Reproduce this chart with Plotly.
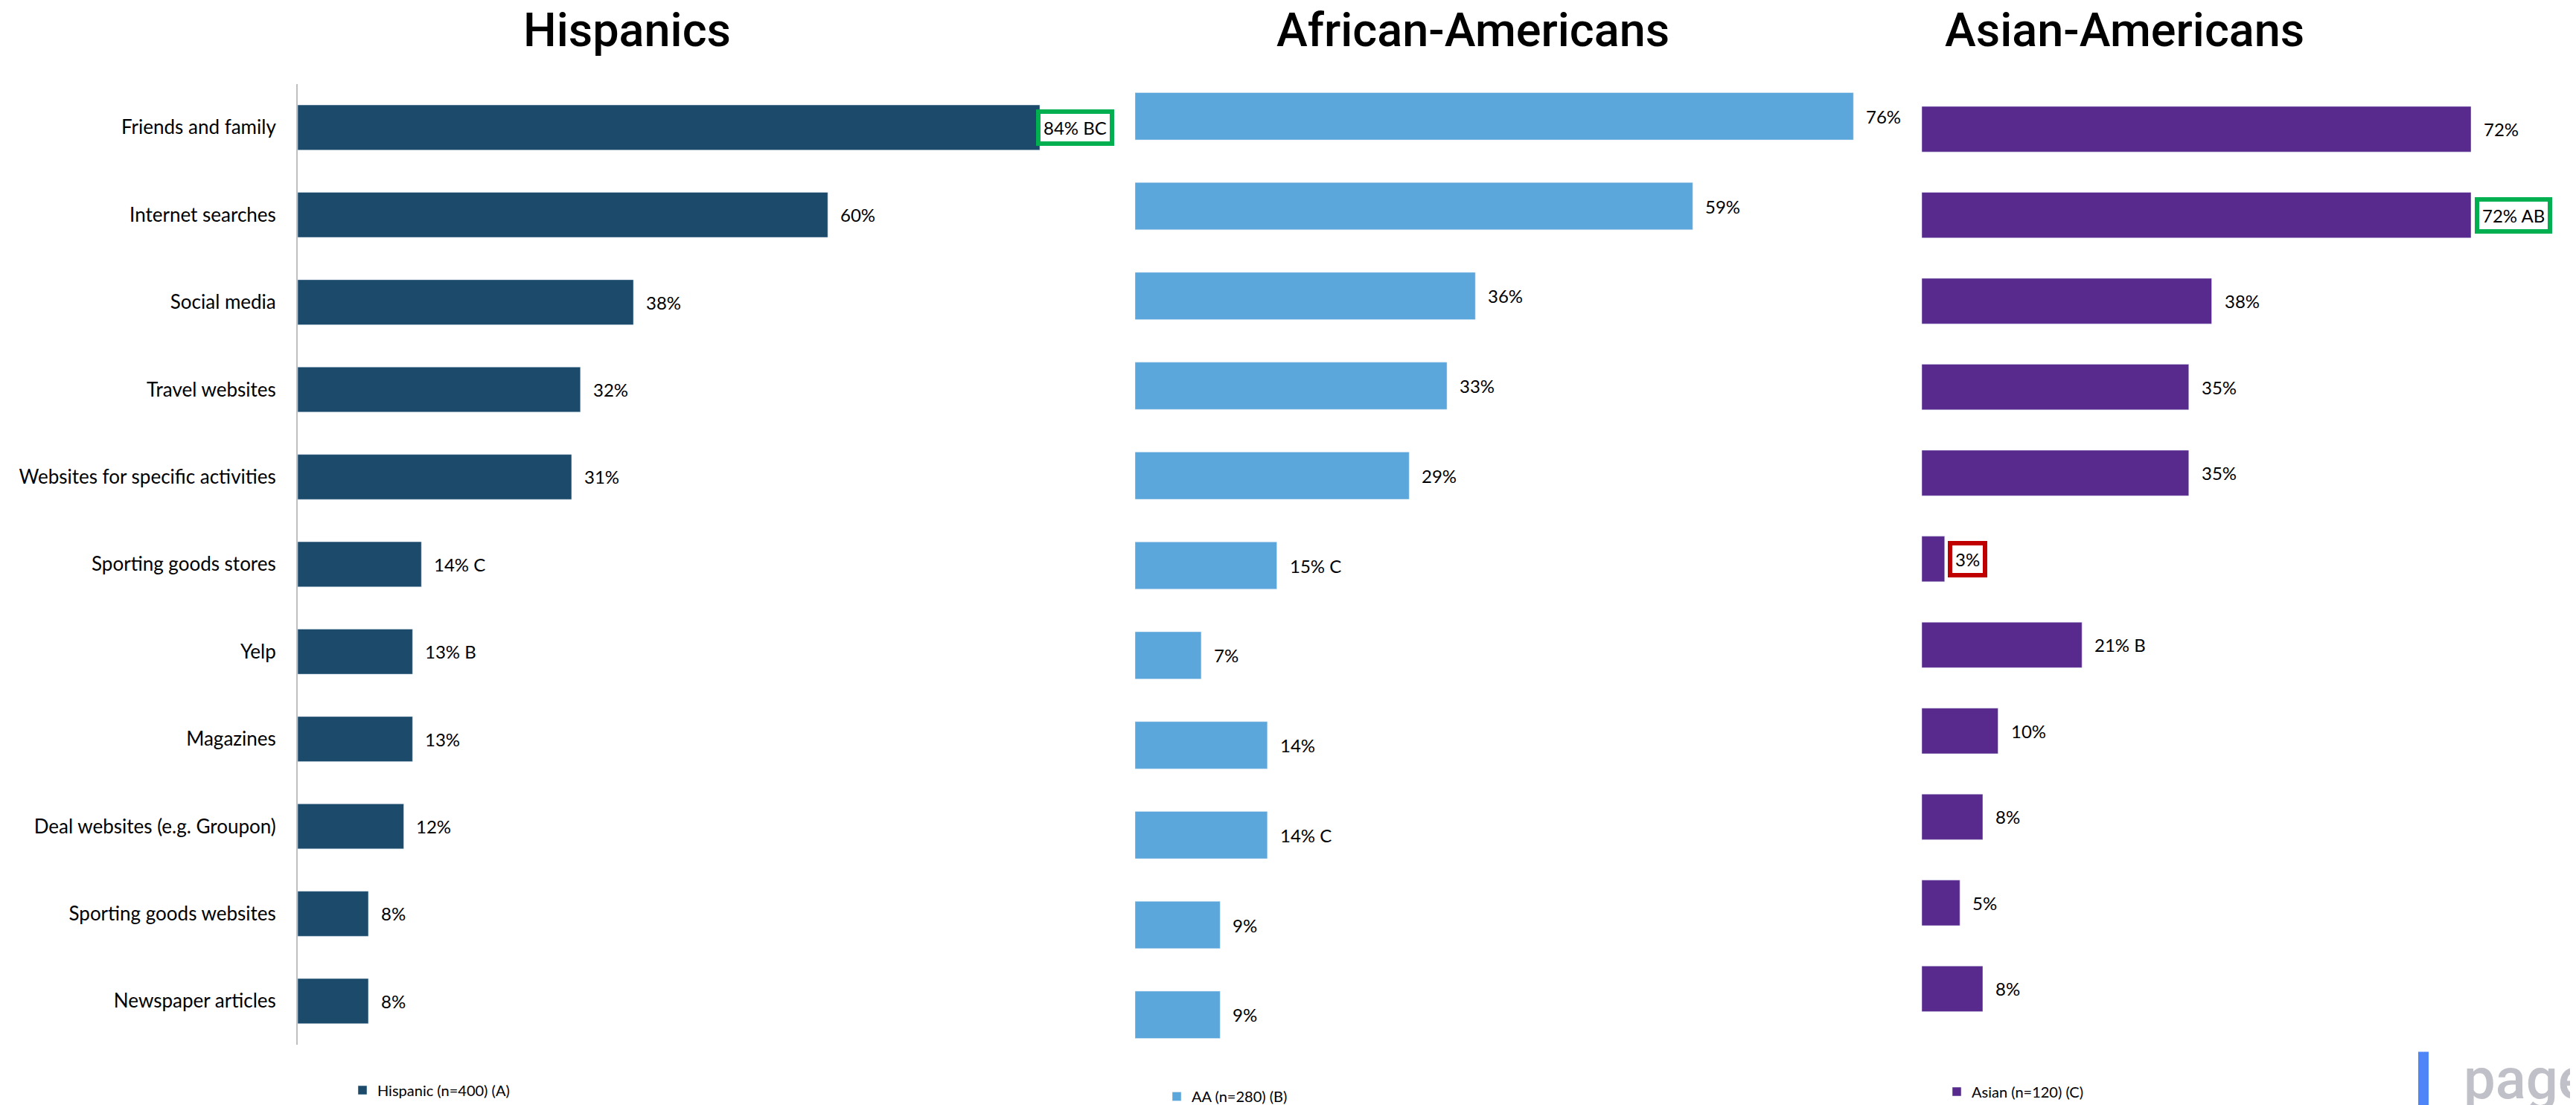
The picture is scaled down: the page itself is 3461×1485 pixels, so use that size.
import plotly.graph_objects as go

W, H = 3461, 1485

categories = ["Friends and family", "Internet searches", "Social media", "Travel websites",
              "Websites for specific activities", "Sporting goods stores", "Yelp", "Magazines",
              "Deal websites (e.g. Groupon)", "Sporting goods websites", "Newspaper articles"]

hispanic_vals = [84, 60, 38, 32, 31, 14, 13, 13, 12, 8, 8]
hispanic_labels = ["84% BC", "60%", "38%", "32%", "31%", "14% C", "13% B", "13%", "12%", "8%", "8%"]

aa_vals = [76, 59, 36, 33, 29, 15, 7, 14, 14, 9, 9]
aa_labels = ["76%", "59%", "36%", "33%", "29%", "15% C", "7%", "14%", "14% C", "9%", "9%"]

asian_vals = [72, 72, 38, 35, 35, 3, 21, 10, 8, 5, 8]
asian_labels = ["72%", "72% AB", "38%", "35%", "35%", "3%", "21% B", "10%", "8%", "5%", "8%"]

# highlighted labels: (panel, category index) -> box colour
green_boxes = [("A", 0), ("C", 1)]
red_boxes = [("C", 5)]

series_names = ["Hispanic (n=400) (A)", "AA (n=280) (B)", "Asian (n=120) (C)"]
panel_titles = ["Hispanics", "African-Americans", "Asian-Americans"]
colors = ["#1B4A6B", "#5BA7DC", "#582A8E"]

# box x offsets (pixels) for highlighted labels
box_shift = {("A", 0): -5, ("C", 1): 5, ("C", 5): 4}

FONT = "Lato, 'Liberation Sans', Arial, sans-serif"
CAT = 26
VAL = 24
OFF = 8      # page body margin of the default html page
YS = 0.994   # measured vertical scale of the rendered page


def px_x(p):
    return (p - OFF) / W


def px_y(p):
    return 1 - ((p + 1) / YS - OFF) / H


fig = go.Figure()

panels = [
    dict(key="A", vals=hispanic_vals, labels=hispanic_labels, xd=[400, 400 + 90 * 11.87], xr=90,
         yd=[1413.6, 112.4], width=0.516, legend="legend", lx=467, ly=1475),
    dict(key="B", vals=aa_vals, labels=aa_labels, xd=[1525, 1525 + 82 * 12.7], xr=82,
         yd=[1433.8, 95.5], width=0.526, legend="legend2", lx=1561, ly=1484),
    dict(key="C", vals=asian_vals, labels=asian_labels, xd=[2582, 2582 + 85 * 10.25], xr=85,
         yd=[1396, 115.6], width=0.53, legend="legend3", lx=2609, ly=1477),
]

annotations = []
for i, p in enumerate(panels):
    n = "" if i == 0 else str(i + 1)
    fig.add_trace(go.Bar(
        y=categories, x=p["vals"], orientation="h", name=series_names[i],
        marker=dict(color=colors[i]), width=p["width"],
        xaxis="x" + n, yaxis="y" + n, legend=p["legend"], hoverinfo="x+y",
    ))
    lay = {}
    lay["xaxis" + n] = dict(domain=[px_x(p["xd"][0]), px_x(p["xd"][1])], range=[0, p["xr"]],
                            visible=False, anchor="y" + n, fixedrange=True)
    lay["yaxis" + n] = dict(domain=[px_y(p["yd"][0]), px_y(p["yd"][1])], range=[10.5, -0.5],
                            type="category", anchor="x" + n,
                            showticklabels=(i == 0), showgrid=False, zeroline=False,
                            showline=(i == 0), linecolor="#BFBFBF", linewidth=2,
                            ticks="outside" if i == 0 else "", ticklen=22,
                            tickcolor="rgba(0,0,0,0)",
                            tickfont=dict(family=FONT, size=CAT, color="#000000"))
    fig.update_layout(**lay)
    fig.update_layout(**{p["legend"]: dict(
        x=px_x(p["lx"]), y=px_y(p["ly"]), xanchor="left", yanchor="middle",
        bgcolor="rgba(0,0,0,0)", font=dict(family=FONT, size=20, color="#000000"),
        itemwidth=30, tracegroupgap=0)})

    for j, (v, t) in enumerate(zip(p["vals"], p["labels"])):
        boxed = None
        if (p["key"], j) in green_boxes:
            boxed = "#00B050"
        elif (p["key"], j) in red_boxes:
            boxed = "#C00000"
        ann = dict(x=v, y=categories[j], xref="x" + n, yref="y" + n, text=t,
                   showarrow=False, xanchor="left", yanchor="middle",
                   font=dict(family=FONT, size=VAL, color="#000000"))
        if boxed:
            ann.update(bordercolor=boxed, borderwidth=6, borderpad=4, bgcolor="#FFFFFF",
                       xshift=box_shift[(p["key"], j)])
        else:
            ann.update(xshift=15)
        annotations.append(ann)

# panel titles
for t, cx in zip(panel_titles, [842, 1979, 2854]):
    annotations.append(dict(x=px_x(cx), y=px_y(40), xref="paper", yref="paper", text=t,
                            showarrow=False, xanchor="center", yanchor="middle",
                            font=dict(family="Roboto, sans-serif", size=63, color="#000000", weight=500)))

# logo text (cut by the page edge as in the reference)
annotations.append(dict(x=px_x(3308), y=px_y(1507), xref="paper", yref="paper", text="page",
                        showarrow=False, xanchor="left", yanchor="bottom",
                        font=dict(family="Roboto, sans-serif", size=76, color="#C0C1C8", weight=500)))

fig.update_layout(
    width=W, height=H, margin=dict(l=0, r=0, t=0, b=0),
    paper_bgcolor="#FFFFFF", plot_bgcolor="#FFFFFF",
    showlegend=True, annotations=annotations, barmode="group",
    shapes=[dict(type="rect", xref="paper", yref="paper", x0=px_x(3249), x1=px_x(3263),
                 y0=px_y(1510), y1=px_y(1423), fillcolor="#4F86F7", line=dict(width=0))],
)

fig.write_html("out.html", config={"displayModeBar": False})
